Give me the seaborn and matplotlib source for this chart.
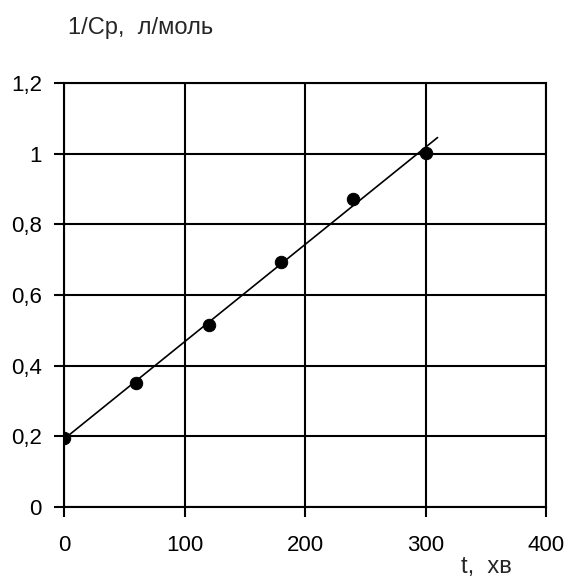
import numpy as np
import pandas as pd
import matplotlib
matplotlib.use("Agg")
import matplotlib.pyplot as plt
import seaborn as sns
from matplotlib.ticker import FuncFormatter

t_min = [0, 60, 120, 180, 240, 300]
inv_c = [0.195, 0.352, 0.515, 0.693, 0.873, 1.003]
x_ticks = [0, 100, 200, 300, 400]
y_ticks = [0, 0.2, 0.4, 0.6, 0.8, 1.0, 1.2]
fit_end = 310

df = pd.DataFrame({"t": t_min, "y": inv_c})

sns.set_style("white")
plt.rcParams['font.family'] = ['Liberation Sans', 'DejaVu Sans']

fig = plt.figure(figsize=(5.68, 5.77), dpi=100)
ax = fig.add_axes([64/568, 1-507/577, (546-64)/568, (507-83)/577])

slope, intercept = np.polyfit(df["t"], df["y"], 1)
xs = np.array([0, fit_end])
ax.plot(xs, slope*xs + intercept, color="black", lw=1.2, zorder=3)
sns.scatterplot(data=df, x="t", y="y", ax=ax, color="black", s=80,
                edgecolor="black", zorder=4, legend=False)

ax.set_xlim(0, 400)
ax.set_ylim(0, 1.2)
ax.set_xticks(x_ticks)
ax.set_yticks(y_ticks)
fmt = FuncFormatter(lambda v, p: ('%g' % round(v, 2)).replace('.', ','))
ax.xaxis.set_major_formatter(fmt)
ax.yaxis.set_major_formatter(fmt)
ax.grid(True, color="black", lw=1.5)
ax.set_axisbelow(True)
for s in ax.spines.values():
    s.set_color("black")
    s.set_linewidth(1.5)
ax.tick_params(axis="both", direction="out", length=7, width=1.5, color="black",
               labelsize=16, labelcolor="black")
ax.tick_params(axis="x", pad=13)
ax.tick_params(axis="y", pad=9)
ax.tick_params(left=True, bottom=True)
ax.set_xlabel("")
ax.set_ylabel("")
fig.text(68/568, 1-28/577, "1/Ср,  л/моль", fontsize=17, ha="left", va="center")
fig.text(486/568, 1-567/577, "t,  хв", fontsize=17, ha="center", va="center")

fig.savefig("out.png", dpi=100)
